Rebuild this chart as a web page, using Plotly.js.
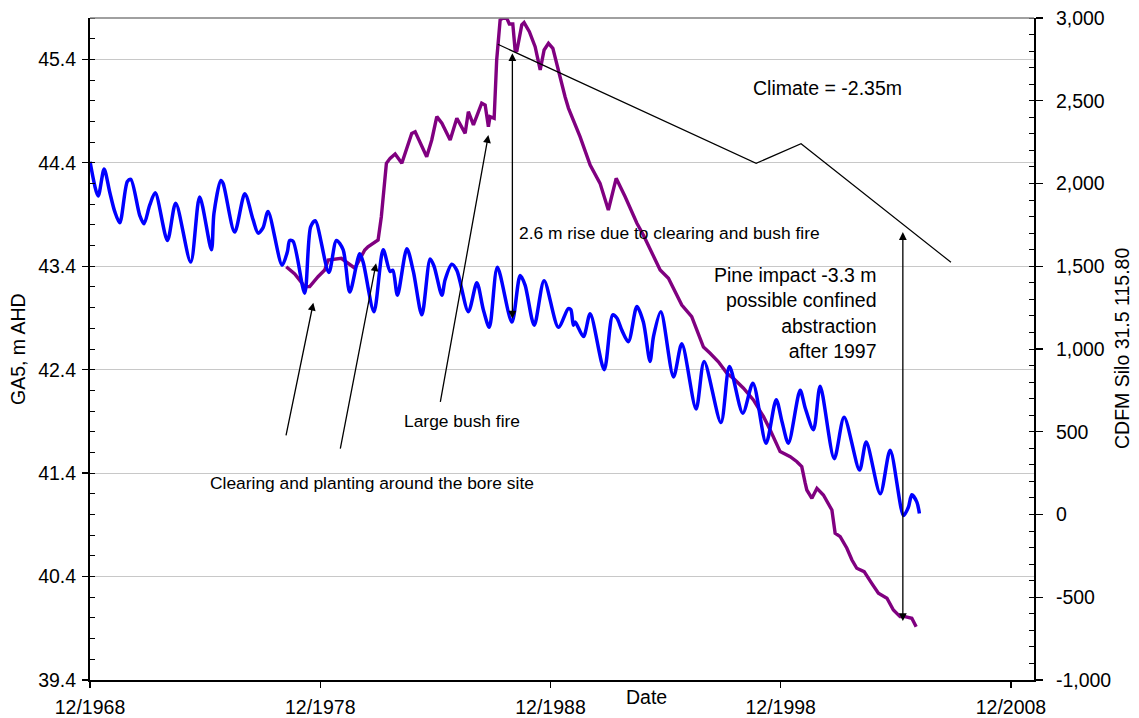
<!DOCTYPE html>
<html>
<head>
<meta charset="utf-8">
<script src="https://cdn.plot.ly/plotly-3.0.1.min.js"></script>
<style>html,body{margin:0;padding:0;background:#fff;}#chart{width:1139px;height:718px;}</style>
</head>
<body>
<div id="chart"></div>
<script>
// GA5 water level (m AHD), decimal years
const gaYears = [1968.92,1969.27,1969.53,1969.77,1969.99,1970.21,1970.54,1970.69,1971.08,1971.26,1971.51,1971.75,
1972.28,1972.64,1973.29,1973.68,1974.19,1974.30,1974.60,1974.70,1975.20,1975.64,1976.00,1976.22,1976.43,1976.65,
1977.26,1977.49,1977.59,1977.74,1978.24,1978.50,1978.70,1979.29,1979.62,1979.91,1980.20,1980.63,1980.78,1981.25,
1981.65,1981.95,1982.07,1982.27,1982.68,1982.96,1983.33,1983.69,1983.86,1984.20,1984.34,1984.63,1984.85,1985.35,
1985.72,1986.00,1986.26,1986.61,1987.24,1987.60,1987.81,1988.21,1988.64,1989.26,1989.69,1989.80,1989.91,1989.99,
1990.35,1990.64,1991.25,1991.62,1991.80,1992.02,1992.30,1992.67,1992.95,1993.24,1993.39,1993.71,1994.26,1994.62,
1995.24,1995.59,1996.32,1996.69,1997.27,1997.71,1998.28,1998.72,1998.97,1999.25,1999.76,1999.98,2000.34,2000.63,
2001.24,2001.67,2002.34,2002.63,2003.24,2003.67,2004.25,2004.46,2004.61,2004.83,2004.94];
const gaLevels = [44.41,44.08,44.34,44.12,43.93,43.82,44.22,44.24,43.89,43.81,43.99,44.11,
43.65,44.01,43.44,44.07,43.56,43.91,44.23,44.20,43.73,44.10,43.85,43.72,43.77,43.93,
43.41,43.54,43.65,43.64,43.14,43.78,43.84,43.34,43.65,43.56,43.15,43.52,43.44,42.96,
43.56,43.35,43.36,43.12,43.57,43.35,42.93,43.47,43.40,43.12,43.27,43.42,43.36,42.96,
43.24,42.98,42.81,43.39,42.86,43.31,43.22,42.83,43.26,42.81,42.99,42.98,42.83,42.86,
42.72,42.94,42.40,42.93,42.90,42.78,42.67,43.01,42.86,42.48,42.72,42.96,42.33,42.65,
42.02,42.48,41.89,42.43,41.98,42.27,41.69,42.11,41.90,41.69,42.20,42.03,41.82,42.24,
41.54,41.94,41.43,41.70,41.20,41.62,40.99,41.07,41.19,41.12,41.01];

// CDFM Silo 31.5 115.80, decimal years
const cdfmYears = [1977.44,1977.81,1978.24,1978.46,1978.82,1979.11,1979.26,1979.83,1980.42,1980.85,1980.99,1981.43,
1981.57,1981.79,1981.95,1982.17,1982.46,1982.89,1983.04,1983.54,1983.76,1983.98,1984.20,1984.56,1984.85,1985.21,
1985.35,1985.57,1985.93,1986.08,1986.22,1986.29,1986.47,1986.58,1986.73,1986.85,1987.02,1987.13,1987.28,1987.38,
1987.45,1987.67,1987.77,1988.00,1988.25,1988.47,1988.64,1988.83,1989.02,1989.26,1989.55,1989.70,1990.20,1990.64,
1991.07,1991.43,1991.77,1992.16,1992.67,1992.95,1993.39,1993.68,1994.04,1994.62,1995.05,1995.56,1995.85,1996.21,
1996.58,1996.86,1997.30,1997.73,1998.17,1998.46,1998.89,1999.33,1999.62,1999.83,1999.98,2000.05,2000.27,2000.49,
2000.77,2001.14,2001.28,2001.50,2001.79,2002.01,2002.22,2002.54,2002.87,2003.16,2003.53,2003.81,2004.10,2004.32,
2004.61,2004.80];
const cdfmValues = [1497,1453,1377,1377,1437,1477,1538,1548,1488,1598,1618,1659,
1799,2122,2152,2178,2122,2303,2313,2162,2263,2404,2364,2263,2394,2303,
2434,2354,2485,2474,2343,2404,2394,2746,2988,3000,2998,2964,2964,2807,
2796,2958,2972,2917,2827,2686,2807,2847,2817,2676,2524,2454,2283,2112,
2001,1840,2031,1920,1760,1689,1568,1477,1427,1266,1195,1012,974,923,
853,823,763,692,591,511,380,349,319,289,189,148,98,158,
118,27,-113,-134,-204,-275,-325,-345,-416,-476,-506,-577,-617,-617,
-627,-678];

// Climate trend line (CDFM axis)
const climateYears = [1986.63, 1997.85, 1999.80, 2006.31];
const climateValues = [2841, 2122, 2240, 1524];

// Tick labels
const xTickYears = [1968.917, 1978.917, 1988.917, 1998.917, 2008.917];
const xTickText = ['12/1968', '12/1978', '12/1988', '12/1998', '12/2008'];
const gaTicks = [39.4, 40.4, 41.4, 42.4, 43.4, 44.4, 45.4];
const gaTickText = ['39.4', '40.4', '41.4', '42.4', '43.4', '44.4', '45.4'];
const cdfmTicks = [-1000, -500, 0, 500, 1000, 1500, 2000, 2500, 3000];
const cdfmTickText = ['-1,000', '-500', '0', '500', '1,000', '1,500', '2,000', '2,500', '3,000'];

const FONT = 'Liberation Sans, Arial, sans-serif';
const BIG = 19.5, SMALL = 17.4;

const traces = [
  {x: cdfmYears, y: cdfmValues, type: 'scatter', mode: 'lines', yaxis: 'y',
   line: {color: '#800080', width: 3.4}, hoverinfo: 'skip', showlegend: false},
  {x: climateYears, y: climateValues, type: 'scatter', mode: 'lines', yaxis: 'y',
   line: {color: '#000000', width: 1.2}, hoverinfo: 'skip', showlegend: false},
  {x: gaYears, y: gaLevels, type: 'scatter', mode: 'lines', yaxis: 'y2',
   line: {color: '#0000FF', width: 3.5, shape: 'spline', smoothing: 0.8}, hoverinfo: 'skip', showlegend: false}
];

function arrow(hx, hy, tx, ty, both) {
  const a = {x: hx, y: hy, xref: 'x', yref: 'y2', ax: tx, ay: ty, axref: 'x', ayref: 'y2',
    text: '', showarrow: true, arrowhead: 2, arrowsize: 1.2, arrowwidth: 1.3, arrowcolor: '#000'};
  if (both) { a.arrowside = 'end+start'; a.startarrowhead = 2; a.startarrowsize = 1.2; }
  return a;
}
function label(x, y, text, size, xanchor, align) {
  return {x: x, y: y, xref: 'x', yref: 'y2', text: text, showarrow: false,
    xanchor: xanchor || 'left', yanchor: 'middle', align: align || 'left',
    font: {family: FONT, size: size, color: '#000'}};
}

const annotations = [
  arrow(1978.617, 43.047, 1977.418, 41.751),
  arrow(1981.341, 43.428, 1979.777, 41.622),
  arrow(1986.219, 44.668, 1984.121, 42.074),
  arrow(1987.262, 45.459, 1987.262, 42.879, true),
  arrow(2004.221, 43.730, 2004.221, 39.956, true),
  label(1997.632, 45.123, 'Climate = -2.35m', BIG),
  label(1987.466, 43.721, '2.6 m rise due to clearing and bush fire', SMALL),
  label(2003.192, 42.947, 'Pine impact -3.3 m<br>possible confined<br>abstraction<br>after 1997', BIG, 'right', 'right'),
  label(1982.457, 41.903, 'Large bush fire', SMALL),
  label(1974.043, 41.303, 'Clearing and planting around the bore site', SMALL),
  {text: 'GA5, m AHD', xref: 'paper', yref: 'paper', x: 0, y: 0.5, xshift: -72, textangle: -90,
   showarrow: false, xanchor: 'center', yanchor: 'middle', font: {family: FONT, size: BIG, color: '#000'}},
  {text: 'CDFM Silo 31.5 115.80', xref: 'paper', yref: 'paper', x: 1, y: 0.5, xshift: 88, textangle: -90,
   showarrow: false, xanchor: 'center', yanchor: 'middle', font: {family: FONT, size: BIG, color: '#000'}},
  {text: 'Date', xref: 'paper', yref: 'paper', x: 0.5897, y: 0, yshift: -17, showarrow: false,
   xanchor: 'center', yanchor: 'middle', font: {family: FONT, size: BIG, color: '#000'}}
];

const layout = {
  width: 1139, height: 718,
  margin: {l: 90, r: 105, t: 18, b: 38, pad: 0},
  paper_bgcolor: '#fff', plot_bgcolor: '#fff',
  font: {family: FONT, size: BIG, color: '#000'},
  showlegend: false,
  xaxis: {
    type: 'linear', range: [1968.917, 2009.917], tickmode: 'array', tickvals: xTickYears, ticktext: xTickText,
    ticks: 'outside', ticklen: 6, tickwidth: 1.3, tickcolor: '#000', showgrid: false, zeroline: false,
    showline: true, linecolor: '#000', linewidth: 2, ticklabelstandoff: 3,
    tickfont: {family: FONT, size: BIG, color: '#000'}
  },
  yaxis: {
    range: [-1000, 3000], side: 'right', tickmode: 'array', tickvals: cdfmTicks, ticktext: cdfmTickText,
    ticks: 'outside', ticklen: 7, tickwidth: 1.3, tickcolor: '#000', showgrid: false, zeroline: false,
    showline: true, linecolor: '#000', linewidth: 2, ticklabelstandoff: 9,
    minor: {dtick: 100, tick0: -1000, ticks: 'inside', ticklen: 5, tickwidth: 1, tickcolor: '#000', showgrid: false},
    tickfont: {family: FONT, size: BIG, color: '#000'}
  },
  yaxis2: {
    range: [39.4, 45.8], side: 'left', overlaying: 'y', tickmode: 'array', tickvals: gaTicks, ticktext: gaTickText,
    ticks: 'outside', ticklen: 6, tickwidth: 1.3, tickcolor: '#000', showgrid: true, gridcolor: '#c8c8c8', gridwidth: 1,
    zeroline: false, showline: true, linecolor: '#000', linewidth: 2, ticklabelstandoff: 2,
    minor: {dtick: 0.2, tick0: 39.4, ticks: 'inside', ticklen: 5, tickwidth: 1, tickcolor: '#000', showgrid: false},
    tickfont: {family: FONT, size: BIG, color: '#000'}
  },
  shapes: [
    {type: 'line', xref: 'paper', yref: 'paper', x0: 0, x1: 1, y0: 1, y1: 1, line: {color: '#808080', width: 1.5}}
  ],
  annotations: annotations
};

Plotly.newPlot('chart', traces, layout, {staticPlot: true, displayModeBar: false});
</script>
</body>
</html>
